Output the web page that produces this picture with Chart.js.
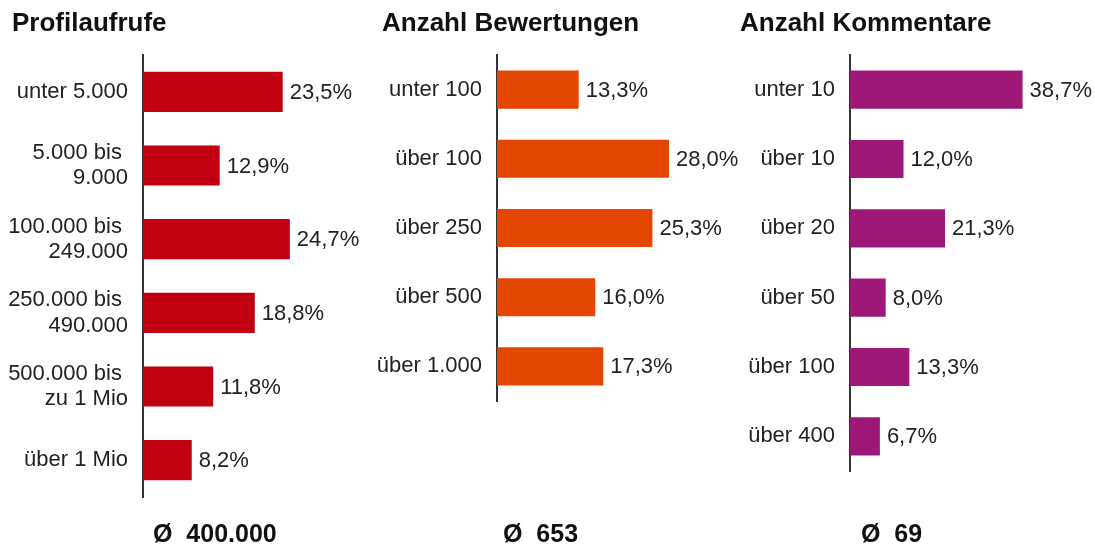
<!DOCTYPE html>
<html lang="de">
<head>
<meta charset="utf-8">
<title>Profilaufrufe, Bewertungen, Kommentare</title>
<script src="https://cdn.jsdelivr.net/npm/chart.js@4"></script>
<style>
  body { margin: 0; background: #fff; }
  .panel { position: absolute; top: 0; height: 545px; }
</style>
</head>
<body>
<div class="panel" style="left:0; width:370px;"><canvas id="chart-profil"></canvas></div>
<div class="panel" style="left:370px; width:375px;"><canvas id="chart-bewertungen"></canvas></div>
<div class="panel" style="left:738px; width:357px;"><canvas id="chart-kommentare"></canvas></div>

<script>
// Daten
const profilLabels = ['unter 5.000', ['5.000 bis ', '9.000'], ['100.000 bis ', '249.000'], ['250.000 bis ', '490.000'], ['500.000 bis ', 'zu 1 Mio'], 'über 1 Mio'];
const profilValues = [23.5, 12.9, 24.7, 18.8, 11.8, 8.2];

const bewertungLabels = ['unter 100', 'über 100', 'über 250', 'über 500', 'über 1.000'];
const bewertungValues = [13.3, 28.0, 25.3, 16.0, 17.3];

const kommentarLabels = ['unter 10', 'über 10', 'über 20', 'über 50', 'über 100', 'über 400'];
const kommentarValues = [38.7, 12.0, 21.3, 8.0, 13.3, 6.7];

const titles = ['Profilaufrufe', 'Anzahl Bewertungen', 'Anzahl Kommentare'];
const averages = ['Ø  400.000', 'Ø  653', 'Ø  69'];

const FONT = '"Liberation Sans", Arial, sans-serif';

function fmt(v) {
    return v.toFixed(1).replace('.', ',') + '%';
}

// Überschrift, Prozentwerte neben den Balken, Durchschnitt unten
const extraText = {
    id: 'extraText',
    afterDatasetsDraw(chart, args, opts) {
        const ctx = chart.ctx;
        const meta = chart.getDatasetMeta(0);
        const data = chart.data.datasets[0].data;
        ctx.save();
        ctx.textAlign = 'left';
        ctx.textBaseline = 'middle';

        ctx.font = 'bold 26px ' + FONT;
        ctx.fillStyle = '#111';
        ctx.fillText(opts.title, opts.titleX, 24);

        ctx.font = '22px ' + FONT;
        ctx.fillStyle = '#222';
        meta.data.forEach(function(bar, i) {
            ctx.fillText(fmt(data[i]), bar.x + 7, bar.y + 1);
        });

        ctx.font = 'bold 25px ' + FONT;
        ctx.fillStyle = '#111';
        ctx.fillText(opts.avg, chart.chartArea.left + opts.avgOffset, 535);
        ctx.restore();
    }
};

function makeChart(id, labels, values, color, title, avg, s) {
    const ctx = document.getElementById(id).getContext('2d');
    return new Chart(ctx, {
        type: 'bar',
        data: {
            labels: labels,
            datasets: [{
                data: values,
                backgroundColor: color,
                borderWidth: 0,
                categoryPercentage: 1,
                barPercentage: s.barPct
            }]
        },
        options: {
            indexAxis: 'y',
            responsive: true,
            maintainAspectRatio: false,
            animation: false,
            layout: { padding: s.padding },
            scales: {
                x: { display: false, min: 0, max: s.max },
                y: {
                    grid: { display: false, drawTicks: false },
                    border: { display: true, color: '#333', width: 2 },
                    ticks: {
                        color: '#222',
                        font: { family: FONT, size: 22, lineHeight: 1.15 },
                        padding: 15,
                        autoSkip: false
                    },
                    afterFit: function(scale) { scale.width = s.axisWidth; }
                }
            },
            plugins: {
                legend: { display: false },
                tooltip: { enabled: false },
                title: { display: false },
                extraText: { title: title, titleX: s.titleX, avg: avg, avgOffset: s.avgOffset }
            }
        },
        plugins: [extraText]
    });
}

makeChart('chart-profil', profilLabels, profilValues, '#C00010', titles[0], averages[0], {
    padding: { left: 0, right: 13, top: 55, bottom: 48 }, axisWidth: 143, max: 36, barPct: 0.545, titleX: 12, avgOffset: 10
});
makeChart('chart-bewertungen', bewertungLabels, bewertungValues, '#E24600', titles[1], averages[1], {
    padding: { left: 0, right: 33, top: 55, bottom: 144 }, axisWidth: 127, max: 35, barPct: 0.55, titleX: 12, avgOffset: 6
});
makeChart('chart-kommentare', kommentarLabels, kommentarValues, '#9E1878', titles[2], averages[2], {
    padding: { left: 0, right: 22, top: 55, bottom: 74 }, axisWidth: 112, max: 50, barPct: 0.55, titleX: 2, avgOffset: 11
});
</script>
</body>
</html>
